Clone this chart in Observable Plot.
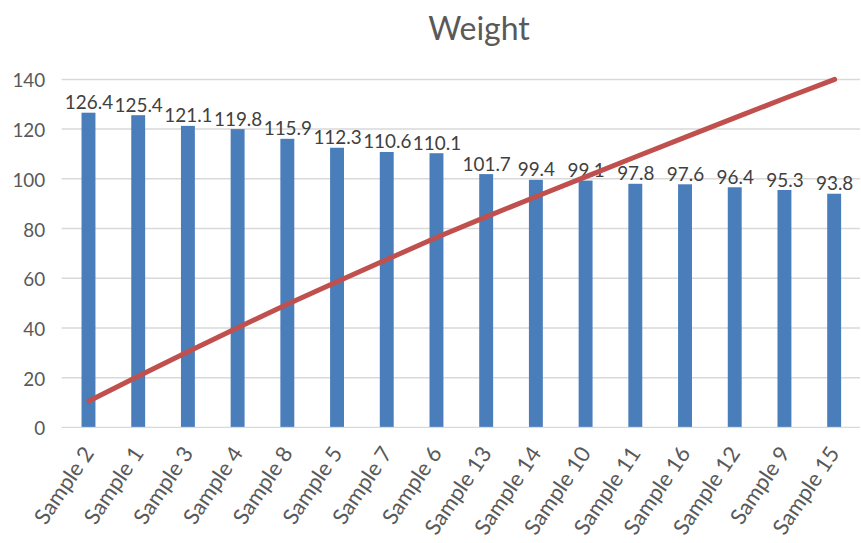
<!DOCTYPE html>
<html>
<head>
<meta charset="utf-8">
<script src="https://cdn.jsdelivr.net/npm/d3@7"></script>
<script src="https://cdn.jsdelivr.net/npm/@observablehq/plot@0.6"></script>
<style>
  html, body { margin: 0; padding: 0; background: #fff; overflow: hidden; width: 861px; height: 543px; }
  #title { height: 62px; line-height: 56px; font-family: Lato, "Open Sans", sans-serif; font-size: 32px; color: #595959; text-align: center; width: 958px; }
  #chart svg { display: block; overflow: visible; }
</style>
</head>
<body>
<div id="title">Weight</div>
<div id="chart"></div>
<script>
const samples = ["Sample 2","Sample 1","Sample 3","Sample 4","Sample 8","Sample 5","Sample 7","Sample 6","Sample 13","Sample 14","Sample 10","Sample 11","Sample 16","Sample 12","Sample 9","Sample 15"];
const weights = [126.4,125.4,121.1,119.8,115.9,112.3,110.6,110.1,101.7,99.4,99.1,97.8,97.6,96.4,95.3,93.8];
const lineValues = [10.6,20.7,30.5,40.2,49.6,58.7,67.6,76.5,84.8,92.9,100.9,108.9,116.8,124.6,132.4,140.0];
const yTicks = [0,20,40,60,80,100,120,140];

const data = samples.map((s, i) => ({sample: s, weight: weights[i], line: lineValues[i], label: String(weights[i])}));

const font = "Lato, 'Open Sans', sans-serif";

const chart = Plot.plot({
  width: 866,
  height: 481,
  marginLeft: 62,
  marginRight: 1,
  marginTop: 17,
  marginBottom: 114,
  style: {fontFamily: font, fontSize: "19px", color: "#595959", background: "#fff"},
  x: {domain: samples, paddingInner: 0.72, paddingOuter: 0.36, align: 0.5, label: null},
  y: {domain: [0, 140], label: null},
  marks: [
    Plot.gridY(yTicks, {stroke: "#d9d9d9", strokeOpacity: 1, strokeWidth: 1.5}),
    Plot.axisY(yTicks, {tickSize: 0, tickPadding: 17, fontSize: 19, fill: "#595959", dy: 2, label: null}),
    Plot.axisX({tickSize: 0, tickRotate: -56, tickPadding: 22, fontSize: 22, fill: "#595959", label: null}),
    Plot.barY(data, {x: "sample", y: "weight", fill: "#4a7ebb"}),
    Plot.text(data, {x: "sample", y: "weight", text: "label", lineAnchor: "bottom", dy: -4, fontSize: 19, fill: "#404040"}),
    Plot.line(data, {x: "sample", y: "line", stroke: "#c0504d", strokeWidth: 5, strokeLinecap: "round"})
  ]
});
document.getElementById("chart").appendChild(chart);
</script>
</body>
</html>
